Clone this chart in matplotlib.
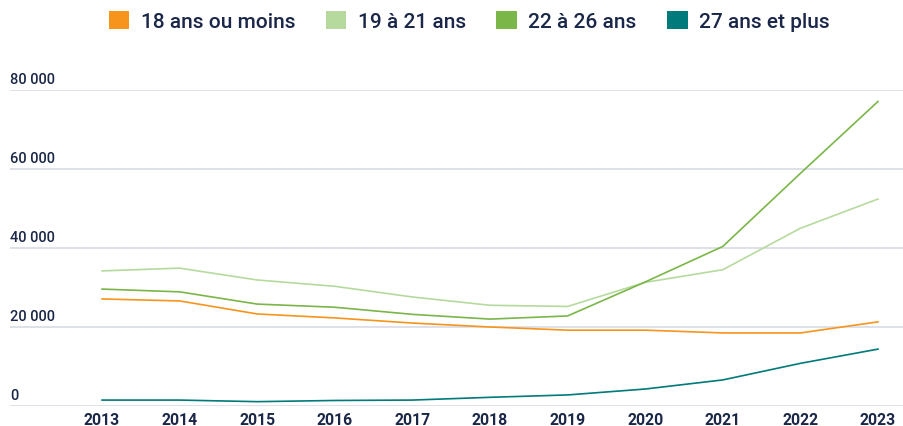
import matplotlib.pyplot as plt
from matplotlib.patches import Patch
import matplotlib.transforms as mtransforms

plt.rcParams['font.family'] = ['Roboto', 'DejaVu Sans']

years = [2013, 2014, 2015, 2016, 2017, 2018, 2019, 2020, 2021, 2022, 2023]
moins_18 = [27100, 26600, 23300, 22300, 21000, 20000, 19200, 19200, 18500, 18500, 21300]
ans_19_21 = [34200, 34900, 31900, 30300, 27600, 25500, 25200, 31300, 34500, 45000, 52400]
ans_22_26 = [29600, 28900, 25800, 25000, 23200, 22000, 22800, 31400, 40400, 58900, 77100]
plus_27 = [1500, 1500, 1100, 1400, 1500, 2200, 2800, 4300, 6600, 10800, 14400]

labels = ['18 ans ou moins', '19 à 21 ans', '22 à 26 ans', '27 ans et plus']
colors = ['#F7941D', '#B6DA9E', '#7AB648', '#007A7A']
series = [moins_18, ans_19_21, ans_22_26, plus_27]
y_ticks = [0, 20000, 40000, 60000, 80000]
y_tick_labels = ['0', '20 000', '40 000', '60 000', '80 000']

text_color = '#1B2748'

fig = plt.figure(figsize=(9.04, 4.27), dpi=100)
ax = fig.add_axes([10 / 904, 1 - 407 / 427, 1 - 10 / 904, (407 - 91) / 427])

for vals, c in zip(series, colors):
    ax.plot(years, vals, color=c, linewidth=1.2, clip_on=False)

ax.set_xlim(2011.814, 2023.335)
ax.set_ylim(0, 80000)
ax.set_yticks(y_ticks)
ax.set_yticklabels([])
ax.tick_params(axis='y', length=0)
ax.grid(axis='y', color='#D5D8E0', linewidth=1.1)
ax.set_axisbelow(True)
for s in ax.spines.values():
    s.set_visible(False)

ax.set_xticks(years)
ax.set_xticklabels([str(y) for y in years], fontsize=11.3, fontweight='bold', color=text_color)
ax.tick_params(axis='x', length=0, pad=4)

# y labels sit just above their gridline, flush left
trans = mtransforms.blended_transform_factory(ax.transAxes, ax.transData)
for v, lab in zip(y_ticks, y_tick_labels):
    ax.text(0.0, v + 900, lab, transform=trans, ha='left', va='bottom', fontsize=10.5,
            fontweight='medium', color=text_color)

handles = [Patch(facecolor=c, edgecolor='none') for c in colors]
fig.legend(handles, labels, loc='center', bbox_to_anchor=(0.519, 1 - 22 / 427), ncol=4,
           frameon=False, fontsize=15, handlelength=1.0, handleheight=1.0,
           handletextpad=0.55, columnspacing=1.45, labelcolor=text_color,
           prop={'size': 15, 'weight': 'medium'})

fig.savefig('out.png', dpi=100)
